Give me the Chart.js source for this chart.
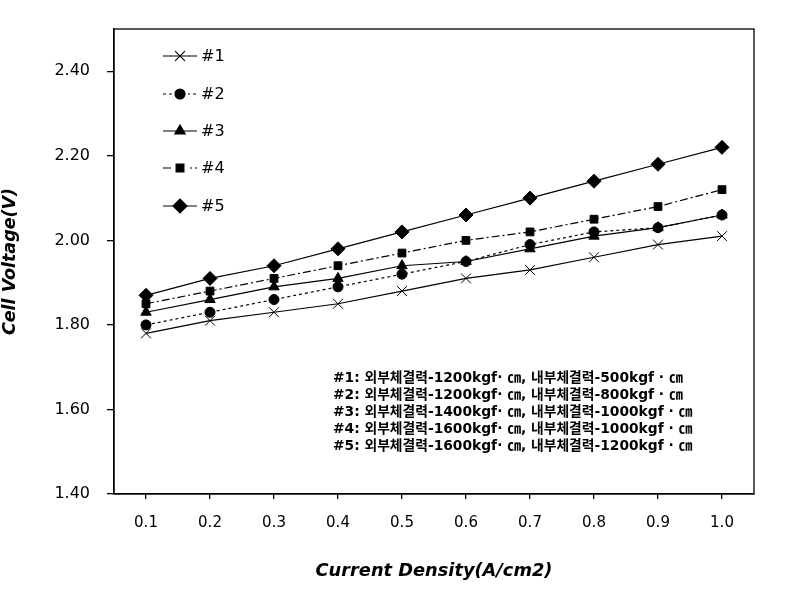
<!DOCTYPE html>
<html>
<head>
<meta charset="utf-8">
<script src="https://cdn.jsdelivr.net/npm/chart.js@4.4.1/dist/chart.umd.min.js"></script>
<style>
  html, body { margin: 0; padding: 0; background: #fff; }
  #wrap { width: 793px; height: 589px; }
</style>
</head>
<body>
<div id="wrap"><canvas id="cv" width="793" height="589"></canvas></div>
<script>
const FONT = '"DejaVu Sans", "Noto Sans CJK KR", sans-serif';

// data
const densities = ['0.1', '0.2', '0.3', '0.4', '0.5', '0.6', '0.7', '0.8', '0.9', '1.0'];
const s1 = [1.78, 1.81, 1.83, 1.85, 1.88, 1.91, 1.93, 1.96, 1.99, 2.01];
const s2 = [1.80, 1.83, 1.86, 1.89, 1.92, 1.95, 1.99, 2.02, 2.03, 2.06];
const s3 = [1.83, 1.86, 1.89, 1.91, 1.94, 1.95, 1.98, 2.01, 2.03, 2.06];
const s4 = [1.85, 1.88, 1.91, 1.94, 1.97, 2.00, 2.02, 2.05, 2.08, 2.12];
const s5 = [1.87, 1.91, 1.94, 1.98, 2.02, 2.06, 2.10, 2.14, 2.18, 2.22];
const seriesNames = ['#1', '#2', '#3', '#4', '#5'];
const yTicks = [1.4, 1.6, 1.8, 2.0, 2.2, 2.4];
const notes = [
  '#1: 외부체결력-1200kgf· ㎝, 내부체결력-500kgf · ㎝',
  '#2: 외부체결력-1200kgf· ㎝, 내부체결력-800kgf · ㎝',
  '#3: 외부체결력-1400kgf· ㎝, 내부체결력-1000kgf · ㎝',
  '#4: 외부체결력-1600kgf· ㎝, 내부체결력-1000kgf · ㎝',
  '#5: 외부체결력-1600kgf· ㎝, 내부체결력-1200kgf · ㎝'
];

const styles = [
  { pointStyle: 'crossRot', pointRadius: 7, dash: [] },
  { pointStyle: 'circle', pointRadius: 5, dash: [3, 3] },
  { pointStyle: 'triangle', pointRadius: 6, dash: [] },
  { pointStyle: 'rect', pointRadius: 5.5, dash: [8, 3, 2, 3] },
  { pointStyle: 'rectRot', pointRadius: 7, dash: [] }
];

const values = [s1, s2, s3, s4, s5];
const datasets = values.map((v, i) => ({
  label: seriesNames[i],
  data: v,
  borderColor: '#000',
  backgroundColor: '#000',
  borderWidth: 1.2,
  borderDash: styles[i].dash,
  pointStyle: styles[i].pointStyle,
  pointRadius: styles[i].pointRadius,
  pointBorderWidth: 1,
  pointBorderColor: '#000',
  pointBackgroundColor: '#000',
  tension: 0
}));

// frame, legend and notes box
const extras = {
  id: 'extras',
  afterDraw(chart) {
    const ctx = chart.ctx;
    const a = chart.chartArea;
    ctx.save();
    ctx.strokeStyle = '#000';
    ctx.lineWidth = 1.3;
    ctx.strokeRect(a.left, a.top, a.right - a.left, a.bottom - a.top);

    // legend
    const legY = [56, 94, 131, 168, 206];
    chart.data.datasets.forEach((ds, i) => {
      const y = legY[i];
      ctx.setLineDash(ds.borderDash);
      ctx.lineWidth = 1.2;
      ctx.beginPath();
      ctx.moveTo(163, y);
      ctx.lineTo(197, y);
      ctx.stroke();
      ctx.setLineDash([]);
      ctx.fillStyle = '#fff';
      if (ds.borderDash.length) ctx.fillRect(172, y - 1, 16, 2);
      ctx.fillStyle = '#000';
      Chart.helpers.drawPoint(ctx, {
        pointStyle: ds.pointStyle, radius: ds.pointRadius, borderWidth: 1, rotation: 0
      }, 180, y);
      ctx.font = '16px ' + FONT;
      ctx.textBaseline = 'middle';
      ctx.textAlign = 'left';
      ctx.fillText(ds.label, 201, y + 1);
    });

    // notes
    ctx.font = 'bold 13.8px ' + FONT;
    ctx.textBaseline = 'middle';
    notes.forEach((t, i) => ctx.fillText(t, 333, 378 + i * 17.2));
    ctx.restore();
  }
};

new Chart(document.getElementById('cv'), {
  type: 'line',
  data: { labels: densities, datasets },
  plugins: [extras],
  options: {
    responsive: false,
    animation: false,
    layout: { padding: { top: 29, right: 39, left: 0, bottom: 0 } },
    plugins: { legend: { display: false }, tooltip: { enabled: false } },
    scales: {
      x: {
        offset: true,
        grid: { drawOnChartArea: false, drawTicks: true, tickLength: 5, color: '#000', lineWidth: 1.3, offset: false },
        border: { display: true, color: '#000', width: 1.3 },
        ticks: { color: '#000', font: { family: FONT, size: 15 }, padding: 15, maxRotation: 0 },
        title: {
          display: true, text: 'Current Density(A/cm2)', color: '#000',
          font: { family: FONT, size: 17.8, weight: 'bold', style: 'italic' },
          padding: { top: 0, bottom: 7 }
        },
        afterFit(s) { s.height = 95; }
      },
      y: {
        min: 1.4,
        max: 2.5,
        afterBuildTicks(s) { s.ticks = yTicks.map(v => ({ value: v })); },
        grid: { drawOnChartArea: false, drawTicks: true, tickLength: 7, color: '#000', lineWidth: 1.3 },
        border: { display: true, color: '#000', width: 1.3 },
        ticks: {
          color: '#000', font: { family: FONT, size: 16 }, padding: 17,
          callback: v => v.toFixed(2)
        },
        title: {
          display: true, text: 'Cell Voltage(V)', color: '#000',
          font: { family: FONT, size: 17.5, weight: 'bold', style: 'italic' },
          padding: { top: 0, bottom: 0 }
        },
        afterFit(s) { s.width = 114; }
      }
    }
  }
});
</script>
</body>
</html>
